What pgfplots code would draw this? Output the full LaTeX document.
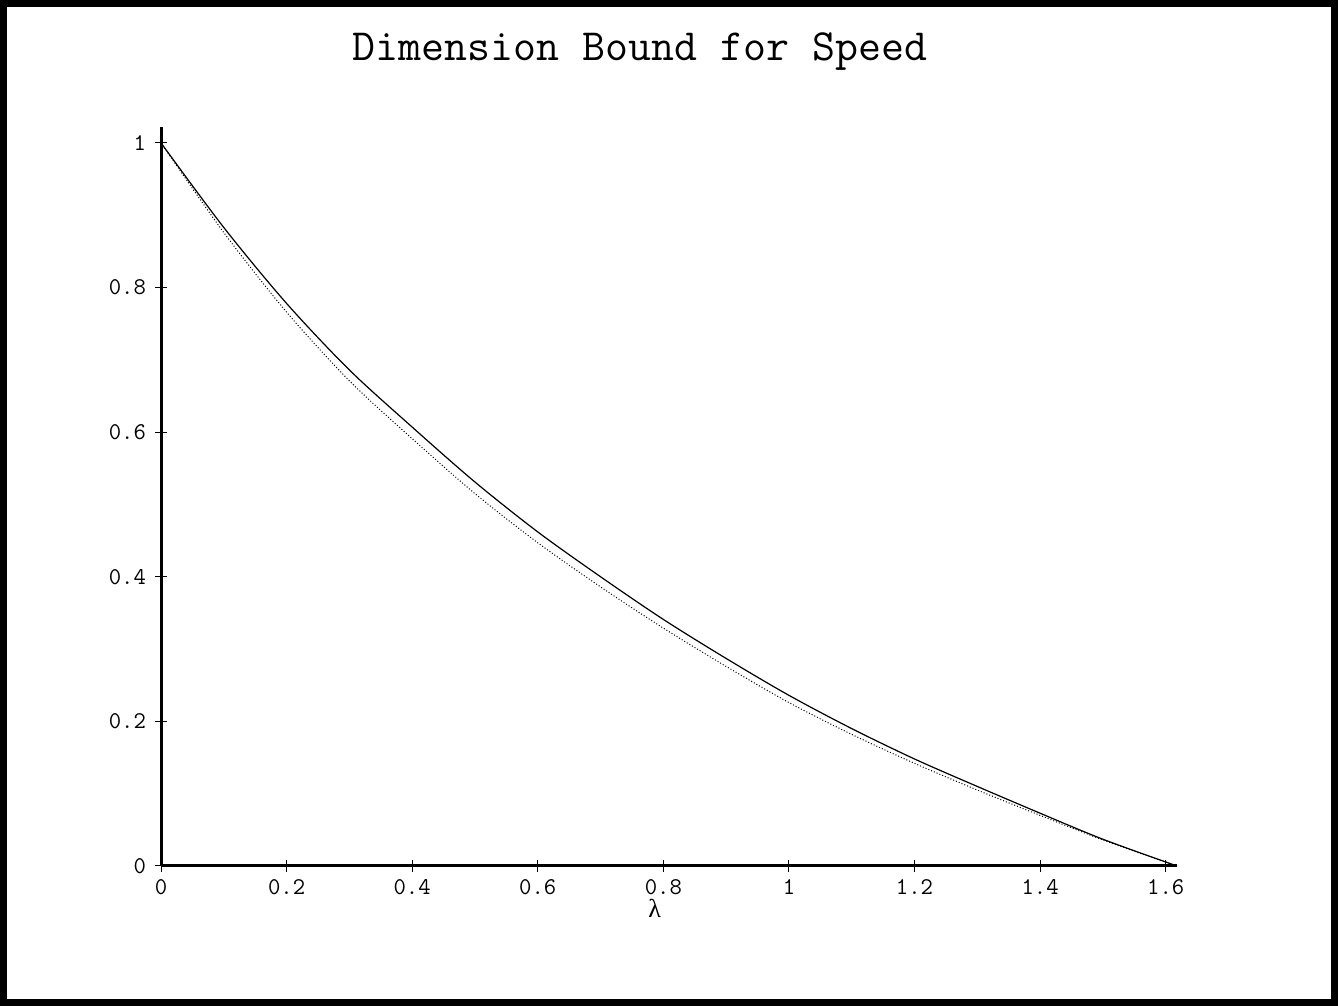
\documentclass[border=0pt]{standalone}
\usepackage{fontspec}
\newfontfamily\greekfont{Liberation Serif}
\usepackage{pgfplots}
\pgfplotsset{compat=1.18}
\begin{document}
\begin{tikzpicture}
\useasboundingbox (0pt,0pt) rectangle (669pt,503pt);
\draw[line width=3.5pt] (1.75pt,1.75pt) rectangle (667.25pt,501.25pt);
\node[anchor=base, font=\fontsize{22.3}{26}\selectfont\ttfamily, inner sep=0pt] at (320pt,472.5pt) {Dimension Bound for Speed};
\begin{axis}[
  at={(80.5pt,70pt)}, anchor=origin,
  scale only axis, width=508pt, height=369.5pt,
  xmin=0, xmax=1.618, ymin=0, ymax=1.022,
  axis x line=bottom, axis y line=left,
  axis line style={-, line width=1.5pt},
  xtick={0,0.2,0.4,0.6,0.8,1,1.2,1.4,1.6},
  ytick={0,0.2,0.4,0.6,0.8,1},
  tick align=center, major tick length=6pt,
  every tick/.style={black, line width=0.5pt},
  tick label style={font=\fontsize{12}{14}\selectfont\ttfamily},
  /pgf/number format/assume math mode=true,
  yticklabel style={xshift=-1pt},
  xlabel={λ},
  xlabel style={at={(axis description cs:0.486,0)}, anchor=north, yshift=-13pt, font=\fontsize{13}{15}\selectfont\greekfont},
  clip=false]
\addplot[black, line width=0.6pt, smooth] coordinates {
(0,1.000) (0.1,0.883) (0.2,0.778) (0.3,0.686) (0.4,0.607) (0.5,0.531)
(0.6,0.462) (0.7,0.400) (0.8,0.341) (0.9,0.287) (1.0,0.236) (1.1,0.190)
(1.2,0.148) (1.3,0.110) (1.4,0.073) (1.5,0.037) (1.618,0)
};
\addplot[black, line width=0.5pt, densely dotted, smooth] coordinates {
(0,1.000) (0.1,0.876) (0.2,0.766) (0.3,0.671) (0.4,0.591) (0.5,0.515)
(0.6,0.447) (0.7,0.386) (0.8,0.329) (0.9,0.276) (1.0,0.226) (1.1,0.182)
(1.2,0.142) (1.3,0.105) (1.4,0.070) (1.5,0.036) (1.618,0)
};
\end{axis}
\end{tikzpicture}
\end{document}
